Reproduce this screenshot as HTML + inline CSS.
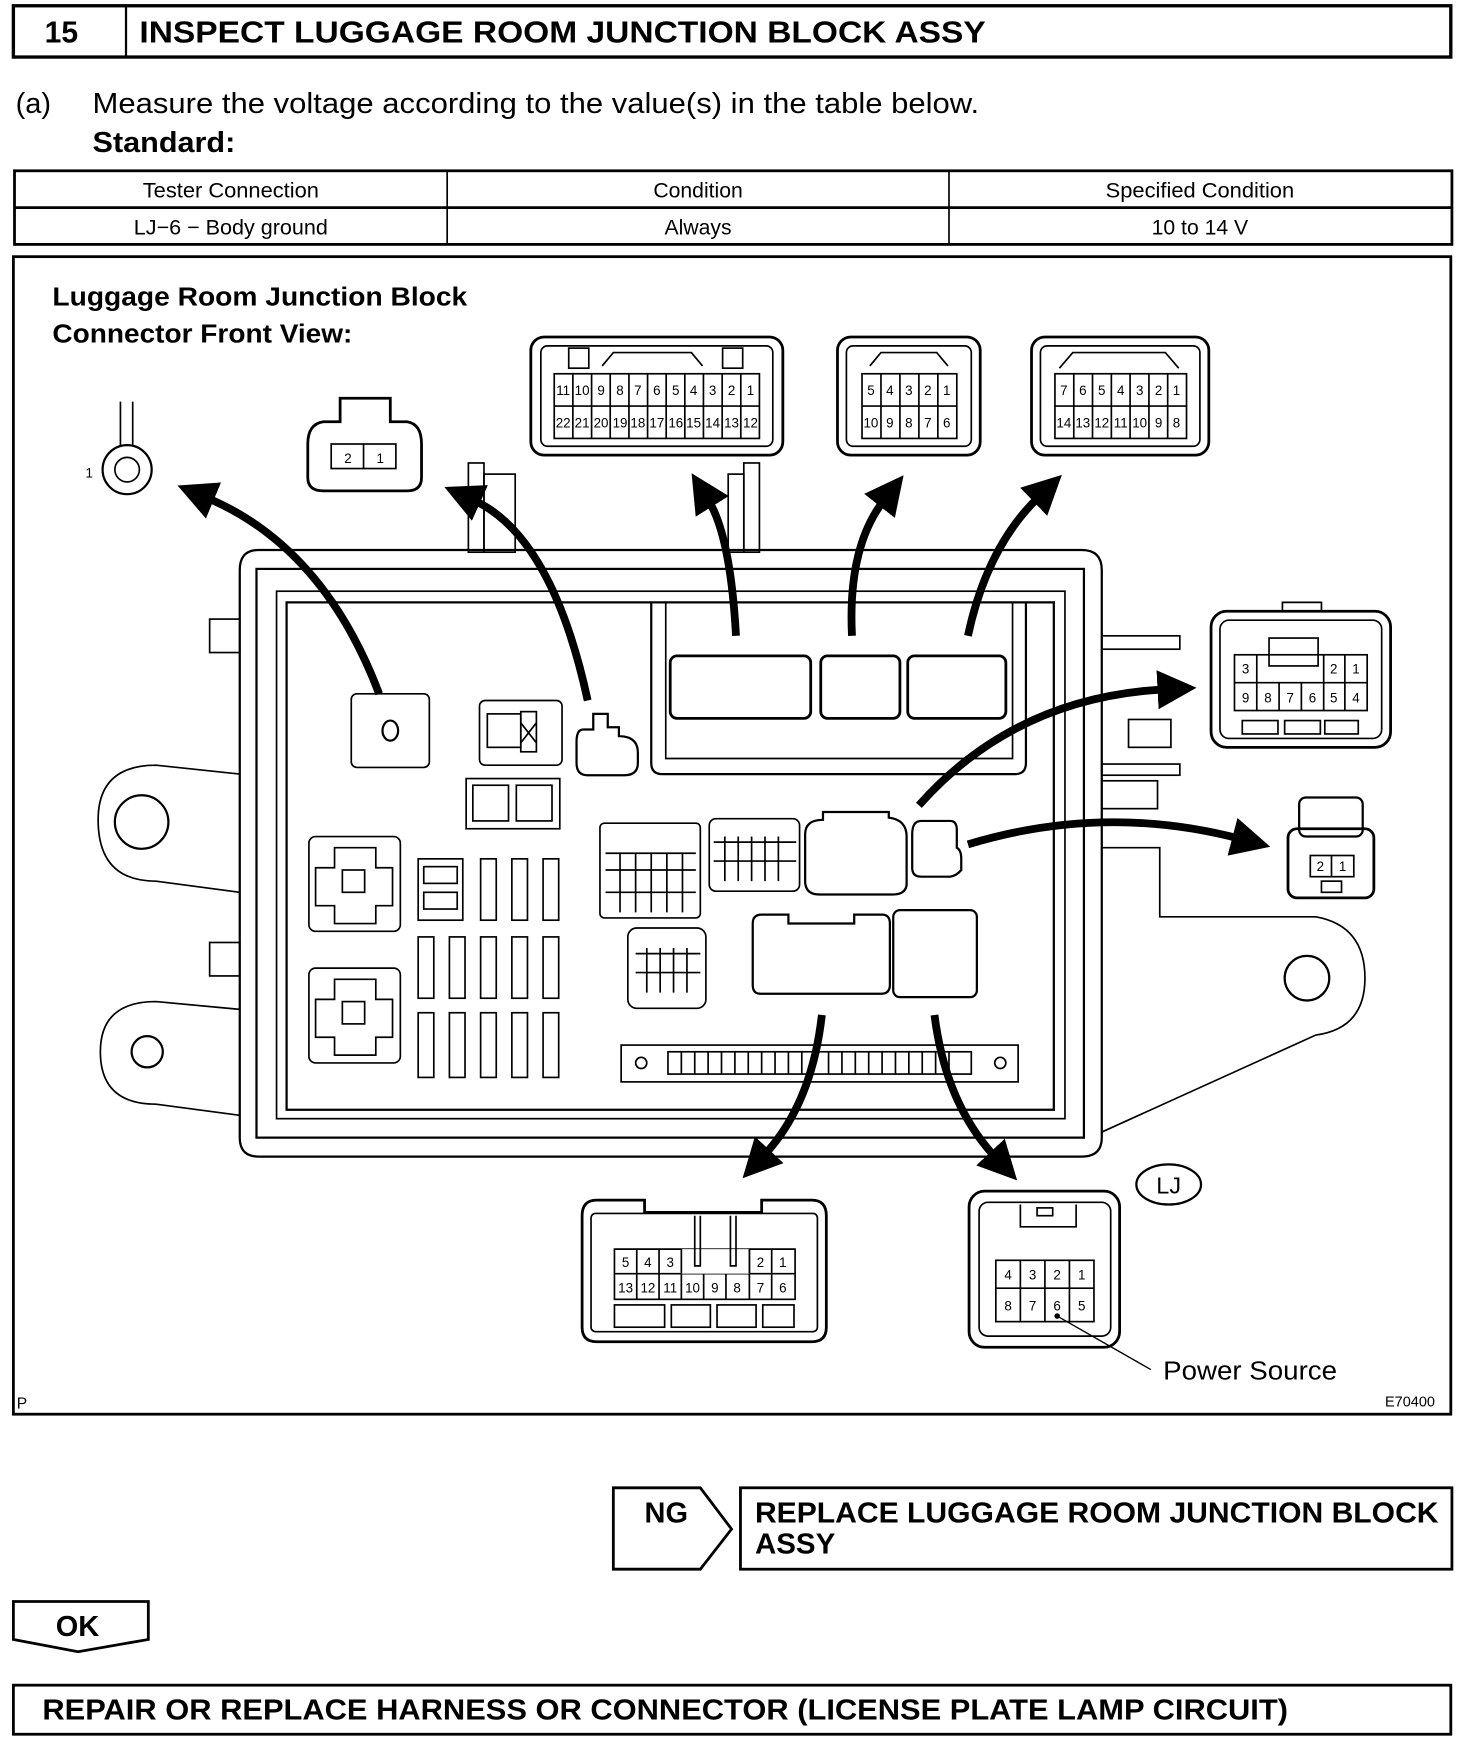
<!DOCTYPE html>
<html><head><meta charset="utf-8"><style>
html,body{margin:0;padding:0;background:#fff}
svg{display:block}
text{font-family:"Liberation Sans",Arial,sans-serif;fill:#000}
</style></head><body>
<svg width="1472" height="1740" viewBox="0 0 1320 1560" xmlns="http://www.w3.org/2000/svg">
<defs>
<marker id="ah" markerWidth="5" markerHeight="5" refX="1" refY="2.5" orient="auto" markerUnits="strokeWidth">
<path d="M0,0 L5,2.5 L0,5 z" fill="#000"/>
</marker>
</defs>
<g fill="none" stroke="#000">
<rect x="12" y="5" width="1289" height="46" stroke-width="3"/>
<line x1="113" y1="5" x2="113" y2="51" stroke-width="2"/>
<rect x="13" y="153" width="1289" height="66" stroke-width="2.5"/>
<line x1="13" y1="186" x2="1302" y2="186" stroke-width="2.5"/>
<line x1="401" y1="153" x2="401" y2="219" stroke-width="1.5"/>
<line x1="851" y1="153" x2="851" y2="219" stroke-width="1.5"/>
<rect x="12" y="230" width="1289" height="1038" stroke-width="2.5"/>
</g>
<text x="40" y="38" font-size="27" font-weight="bold">15</text>
<text x="125" y="38" font-size="27" font-weight="bold" textLength="759" lengthAdjust="spacingAndGlyphs">INSPECT LUGGAGE ROOM JUNCTION BLOCK ASSY</text>
<text x="14" y="101" font-size="26">(a)</text>
<text x="83" y="101" font-size="26" textLength="795" lengthAdjust="spacingAndGlyphs">Measure the voltage according to the value(s) in the table below.</text>
<text x="83" y="136" font-size="26" font-weight="bold" textLength="128" lengthAdjust="spacingAndGlyphs">Standard:</text>
<g font-size="19" text-anchor="middle">
<text x="207" y="177" textLength="158" lengthAdjust="spacingAndGlyphs">Tester Connection</text>
<text x="626" y="177">Condition</text>
<text x="1076" y="177" textLength="169" lengthAdjust="spacingAndGlyphs">Specified Condition</text>
<text x="207" y="210" textLength="174" lengthAdjust="spacingAndGlyphs">LJ−6 − Body ground</text>
<text x="626" y="210">Always</text>
<text x="1076" y="210">10 to 14 V</text>
</g>
<text x="47" y="274" font-size="23" font-weight="bold" textLength="372" lengthAdjust="spacingAndGlyphs">Luggage Room Junction Block</text>
<text x="47" y="307" font-size="23" font-weight="bold" textLength="269" lengthAdjust="spacingAndGlyphs">Connector Front View:</text>

<g fill="none" stroke="#000" stroke-width="1.5">
<path d="M232,493 H970 Q988,493 988,511 V1020 Q988,1037 970,1037 H232 Q215,1037 215,1020 V511 Q215,493 232,493 Z" stroke-width="2"/>
<rect x="230" y="510" width="742" height="510" stroke-width="2"/>
<rect x="248" y="530" width="707" height="473"/>
<rect x="257" y="540" width="688" height="455" stroke-width="2"/>
<path d="M584,540 V684 Q584,694 594,694 H910 Q920,694 920,684 V540" stroke-width="2"/>
<path d="M597,540 V680 H908 V540"/>
<rect x="601" y="588" width="126" height="56" rx="6" stroke-width="2.5"/>
<rect x="736" y="588" width="71" height="56" rx="6" stroke-width="2.5"/>
<rect x="814" y="588" width="88" height="56" rx="6" stroke-width="2.5"/>
<rect x="420" y="415" width="14" height="80"/>
<rect x="434" y="425" width="28" height="70"/>
<rect x="667" y="415" width="14" height="80"/>
<rect x="653" y="425" width="14" height="70"/>
<path d="M215,694 L140,686 Q88,686 88,735 Q88,790 140,790 L215,800"/>
<circle cx="127" cy="737" r="24" stroke-width="2"/>
<path d="M215,905 L140,898 Q90,898 90,943 Q90,990 140,990 L215,1000"/>
<circle cx="132" cy="943" r="14" stroke-width="2"/>
<rect x="188" y="555" width="27" height="30"/>
<rect x="188" y="845" width="27" height="30"/>
<path d="M988,760 L1040,760 V822 L1180,822 Q1224,830 1224,877 Q1224,922 1180,928 L988,1015"/>
<circle cx="1172" cy="877" r="20" stroke-width="2"/>
<rect x="988" y="570" width="70" height="12"/>
<rect x="1012" y="645" width="38" height="25"/>
<rect x="988" y="685" width="70" height="10"/>
<rect x="988" y="700" width="50" height="25"/>
<rect x="315" y="622" width="70" height="66" rx="5"/>
<ellipse cx="350" cy="655" rx="7" ry="9" stroke-width="2"/>
<rect x="430" y="628" width="74" height="58" rx="5"/>
<rect x="437" y="640" width="30" height="30"/>
<rect x="467" y="638" width="14" height="36"/>
<path d="M467,648 L481,666 M481,648 L467,666"/>
<path d="M523,654 H532 V640 H545 V652 H555 V660 Q572,660 572,675 V684 Q572,695 560,695 H527 Q517,695 517,684 V665 Q517,654 523,654 Z" stroke-width="2"/>
<rect x="418" y="698" width="84" height="45"/>
<rect x="424" y="704" width="32" height="32"/>
<rect x="463" y="704" width="32" height="32"/>
<rect x="277" y="750" width="82" height="85" rx="6"/>
<path d="M300,760 H337 V778 H352 V812 H337 V828 H300 V812 H283 V778 H300 Z"/>
<rect x="307" y="780" width="20" height="20"/>
<rect x="277" y="868" width="82" height="85" rx="6"/>
<path d="M300,878 H337 V896 H352 V930 H337 V946 H300 V930 H283 V896 H300 Z"/>
<rect x="307" y="898" width="20" height="20"/>
<rect x="375" y="770" width="40" height="55"/>
<rect x="380" y="777" width="30" height="15"/>
<rect x="380" y="800" width="30" height="15"/>
<rect x="431" y="770" width="14" height="55"/><rect x="459" y="770" width="14" height="55"/><rect x="487" y="770" width="14" height="55"/>
<rect x="375" y="840" width="14" height="55"/><rect x="403" y="840" width="14" height="55"/><rect x="431" y="840" width="14" height="55"/><rect x="459" y="840" width="14" height="55"/><rect x="487" y="840" width="14" height="55"/>
<rect x="375" y="908" width="14" height="58"/><rect x="403" y="908" width="14" height="58"/><rect x="431" y="908" width="14" height="58"/><rect x="459" y="908" width="14" height="58"/><rect x="487" y="908" width="14" height="58"/>
<rect x="538" y="738" width="90" height="85" rx="4"/>
<path d="M543,765 H624 M543,780 H624 M543,800 H624 M556,765 V818 M570,765 V818 M584,765 V818 M598,765 V818 M612,765 V818"/>
<rect x="636" y="734" width="81" height="65" rx="6"/>
<path d="M640,755 H714 M640,772 H714 M650,750 V790 M662,750 V790 M674,750 V790 M686,750 V790 M698,750 V790"/>
<path d="M738,728 H797 V733 Q813,735 813,750 V792 Q813,802 800,802 H735 Q722,802 722,790 V748 Q722,735 738,735 Z" stroke-width="2"/>
<path d="M826,736 H852 Q858,736 858,744 V760 Q862,762 862,770 V780 Q858,785 852,786 H826 Q818,786 818,778 V748 Q818,736 826,736 Z" stroke-width="2"/>
<rect x="563" y="832" width="70" height="72" rx="8"/>
<path d="M570,855 H628 M570,872 H628 M580,850 V890 M592,850 V890 M604,850 V890 M616,850 V890"/>
<path d="M683,820 H707 V828 H766 V820 H791 Q798,820 798,828 V883 Q798,891 790,891 H682 Q675,891 675,883 V828 Q675,820 683,820 Z" stroke-width="2"/>
<rect x="801" y="816" width="75" height="78" rx="6" stroke-width="2"/>
<rect x="557" y="937" width="356" height="33"/>
<circle cx="575" cy="953" r="5"/>
<circle cx="897" cy="953" r="5"/>
<rect x="599" y="943" width="272" height="20"/>
<path d="M611,943 V963 M623,943 V963 M635,943 V963 M647,943 V963 M659,943 V963 M671,943 V963 M683,943 V963 M695,943 V963 M707,943 V963 M719,943 V963 M743,943 V963 M755,943 V963 M767,943 V963 M779,943 V963 M791,943 V963 M803,943 V963 M815,943 V963 M827,943 V963 M839,943 V963 M851,943 V963"/>
</g>

<g fill="none" stroke="#000" stroke-width="7" marker-end="url(#ah)">
<path d="M340,622 Q290,490 185,446"/>
<path d="M527,628 Q495,480 424,448"/>
<path d="M660,570 Q655,480 635,448"/>
<path d="M764,570 Q760,490 793,448"/>
<path d="M868,570 Q885,490 932,445"/>
<path d="M824,722 Q910,625 1045,618"/>
<path d="M868,757 Q990,720 1112,752"/>
<path d="M737,910 Q728,990 685,1036"/>
<path d="M838,910 Q848,990 893,1038"/>
</g>

<g fill="none" stroke="#000" stroke-width="1.5">
<line x1="108" y1="360" x2="108" y2="400"/><line x1="119" y1="360" x2="119" y2="400"/>
<circle cx="114" cy="421" r="22" stroke-width="2"/>
<circle cx="114" cy="421" r="11"/>
<path d="M290,378 Q276,380 276,398 V428 Q276,440 290,440 H365 Q378,440 378,428 V398 Q378,380 365,378 H350 V357 H305 V378 Z" stroke-width="2.5"/>
<rect x="297" y="398" width="58" height="22"/>
<line x1="326" y1="398" x2="326" y2="420"/>
<rect x="476" y="302" width="226" height="106" rx="12" stroke-width="2.5"/>
<rect x="485" y="310" width="208" height="90" rx="6"/>
<rect x="497" y="335" width="184" height="58"/>
<line x1="497" y1="364" x2="681" y2="364"/>
<path d="M513.7,335 V393 M530.5,335 V393 M547.2,335 V393 M564,335 V393 M580.7,335 V393 M597.4,335 V393 M614.1,335 V393 M630.8,335 V393 M647.6,335 V393 M664.3,335 V393"/>
<rect x="510" y="312" width="18" height="18"/><rect x="648" y="312" width="18" height="18"/>
<path d="M540,328 L550,316 H620 L630,328"/>
<rect x="751" y="302" width="128" height="106" rx="12" stroke-width="2.5"/>
<rect x="759" y="310" width="112" height="90" rx="6"/>
<rect x="773" y="335" width="85" height="58"/>
<line x1="773" y1="364" x2="858" y2="364"/>
<path d="M790,335 V393 M807,335 V393 M824,335 V393 M841,335 V393"/>
<path d="M780,328 L790,316 H840 L850,328"/>
<rect x="925" y="302" width="159" height="106" rx="12" stroke-width="2.5"/>
<rect x="933" y="310" width="143" height="90" rx="6"/>
<rect x="946" y="335" width="118" height="58"/>
<line x1="946" y1="364" x2="1064" y2="364"/>
<path d="M962.9,335 V393 M979.7,335 V393 M996.6,335 V393 M1013.4,335 V393 M1030.3,335 V393 M1047.1,335 V393"/>
<path d="M950,330 L962,316 H1045 L1057,330"/>
<rect x="1086" y="548" width="161" height="122" rx="14" stroke-width="2.5"/>
<rect x="1094" y="556" width="145" height="106" rx="8"/>
<path d="M1150,548 V540 H1185 V548"/>
<rect x="1107" y="587" width="119" height="50"/>
<line x1="1107" y1="612" x2="1226" y2="612"/>
<path d="M1127,587 V637 M1187,587 V637 M1206,587 V637 M1147,612 V637 M1167,612 V637"/>
<rect x="1138" y="572" width="44" height="25"/>
<rect x="1114" y="646" width="32" height="12"/><rect x="1152" y="646" width="32" height="12"/><rect x="1188" y="646" width="30" height="12"/>
<rect x="1155" y="743" width="77" height="62" rx="8" stroke-width="2.5"/>
<rect x="1165" y="715" width="57" height="35" rx="6" stroke-width="2"/>
<rect x="1175" y="767" width="39" height="19"/>
<line x1="1194" y1="767" x2="1194" y2="786"/>
<rect x="1185" y="790" width="18" height="10"/>
<path d="M535,1076 H578 V1087 H683 V1076 H728 Q741,1076 741,1090 V1190 Q741,1203 728,1203 H535 Q522,1203 522,1190 V1090 Q522,1076 535,1076 Z" stroke-width="2.5"/>
<rect x="530" y="1088" width="203" height="106" rx="4"/>
<rect x="551" y="1120" width="162" height="45"/>
<line x1="551" y1="1142" x2="713" y2="1142"/>
<path d="M571,1120 V1165 M591,1120 V1165 M611,1142 V1165 M631,1142 V1165 M651,1142 V1165 M672,1120 V1165 M692,1120 V1165"/>
<rect x="611" y="1120" width="61" height="22" fill="#fff" stroke="none"/>
<path d="M611,1120 V1142 M672,1120 V1142 M551,1120 H611 M672,1120 H713"/>
<path d="M623,1090 V1135 H628 V1090 M660,1090 V1135 H655 V1090"/>
<rect x="551" y="1170" width="45" height="20"/><rect x="602" y="1170" width="35" height="20"/><rect x="643" y="1170" width="35" height="20"/><rect x="684" y="1170" width="28" height="20"/>
<rect x="869" y="1068" width="135" height="140" rx="14" stroke-width="2.5"/>
<rect x="878" y="1078" width="118" height="120" rx="8"/>
<path d="M915,1080 V1100 H965 V1080"/>
<rect x="930" y="1083" width="14" height="7"/>
<rect x="893" y="1130" width="88" height="55"/>
<line x1="893" y1="1155" x2="981" y2="1155"/>
<path d="M915,1130 V1185 M937,1130 V1185 M959,1130 V1185"/>
<ellipse cx="1048" cy="1062" rx="29" ry="18" stroke-width="2"/>
<line x1="948" y1="1180" x2="1032" y2="1228" stroke-width="1.2"/>
</g>
<circle cx="948" cy="1180" r="2.5" fill="#000"/>

<g font-size="12" text-anchor="middle">
<text x="80" y="428">1</text>
<text x="312" y="415">2</text><text x="341" y="415">1</text>
<text x="505" y="354">11</text><text x="522" y="354">10</text><text x="539" y="354">9</text><text x="556" y="354">8</text><text x="572" y="354">7</text><text x="589" y="354">6</text><text x="606" y="354">5</text><text x="622" y="354">4</text><text x="639" y="354">3</text><text x="656" y="354">2</text><text x="673" y="354">1</text>
<text x="505" y="383">22</text><text x="522" y="383">21</text><text x="539" y="383">20</text><text x="556" y="383">19</text><text x="572" y="383">18</text><text x="589" y="383">17</text><text x="606" y="383">16</text><text x="622" y="383">15</text><text x="639" y="383">14</text><text x="656" y="383">13</text><text x="673" y="383">12</text>
<text x="781" y="354">5</text><text x="798" y="354">4</text><text x="815" y="354">3</text><text x="832" y="354">2</text><text x="849" y="354">1</text>
<text x="781" y="383">10</text><text x="798" y="383">9</text><text x="815" y="383">8</text><text x="832" y="383">7</text><text x="849" y="383">6</text>
<text x="954" y="354">7</text><text x="971" y="354">6</text><text x="988" y="354">5</text><text x="1005" y="354">4</text><text x="1022" y="354">3</text><text x="1039" y="354">2</text><text x="1055" y="354">1</text>
<text x="954" y="383">14</text><text x="971" y="383">13</text><text x="988" y="383">12</text><text x="1005" y="383">11</text><text x="1022" y="383">10</text><text x="1039" y="383">9</text><text x="1055" y="383">8</text>
<text x="1117" y="604">3</text><text x="1196" y="604">2</text><text x="1216" y="604">1</text>
<text x="1117" y="630">9</text><text x="1137" y="630">8</text><text x="1157" y="630">7</text><text x="1177" y="630">6</text><text x="1196" y="630">5</text><text x="1216" y="630">4</text>
<text x="1184" y="781">2</text><text x="1204" y="781">1</text>
<text x="561" y="1136">5</text><text x="581" y="1136">4</text><text x="601" y="1136">3</text><text x="682" y="1136">2</text><text x="702" y="1136">1</text>
<text x="561" y="1159">13</text><text x="581" y="1159">12</text><text x="601" y="1159">11</text><text x="621" y="1159">10</text><text x="641" y="1159">9</text><text x="661" y="1159">8</text><text x="682" y="1159">7</text><text x="702" y="1159">6</text>
<text x="904" y="1147">4</text><text x="926" y="1147">3</text><text x="948" y="1147">2</text><text x="970" y="1147">1</text>
<text x="904" y="1175">8</text><text x="926" y="1175">7</text><text x="948" y="1175">6</text><text x="970" y="1175">5</text>
</g>
<text x="1048" y="1070" font-size="21" text-anchor="middle">LJ</text>
<text x="1043" y="1237" font-size="23" textLength="156" lengthAdjust="spacingAndGlyphs">Power Source</text>
<text x="15" y="1263" font-size="14">P</text>
<text x="1242" y="1261" font-size="13">E70400</text>

<g fill="none" stroke="#000" stroke-width="2.5">
<path d="M550,1334 H628 L656,1371 L628,1407 H550 Z"/>
<rect x="664" y="1334" width="638" height="73"/>
<path d="M12,1436 H133 V1470 L70,1481 L12,1470 Z"/>
<rect x="12" y="1511" width="1289" height="44"/>
</g>
<text x="578" y="1365" font-size="26" font-weight="bold">NG</text>
<text x="677" y="1365" font-size="26" font-weight="bold" textLength="613" lengthAdjust="spacingAndGlyphs">REPLACE LUGGAGE ROOM JUNCTION BLOCK</text>
<text x="677" y="1393" font-size="26" font-weight="bold" textLength="72" lengthAdjust="spacingAndGlyphs">ASSY</text>
<text x="50" y="1467" font-size="26" font-weight="bold">OK</text>
<text x="38" y="1542" font-size="26" font-weight="bold" textLength="1117" lengthAdjust="spacingAndGlyphs">REPAIR OR REPLACE HARNESS OR CONNECTOR (LICENSE PLATE LAMP CIRCUIT)</text>
</svg>
</body></html>
